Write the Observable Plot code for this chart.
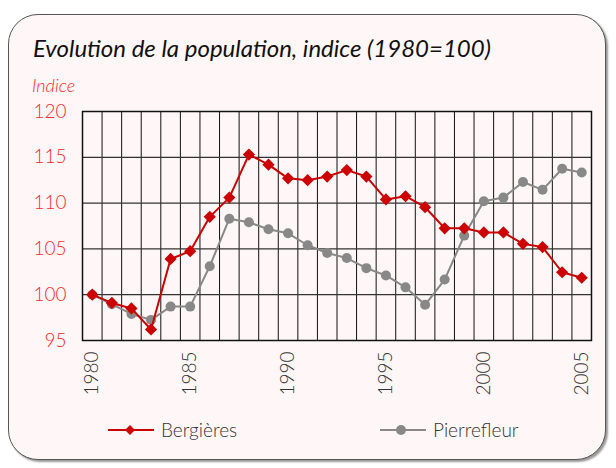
<!DOCTYPE html>
<html><head><meta charset="utf-8">
<script src="https://cdn.jsdelivr.net/npm/d3@7"></script>
<script src="https://cdn.jsdelivr.net/npm/@observablehq/plot@0.6"></script>
<style>
html,body{margin:0;padding:0;background:#fff;}
body{width:616px;height:468px;position:relative;overflow:hidden;font-family:Lato,"Open Sans",sans-serif;}
#box{position:absolute;left:8px;top:14px;width:598px;height:446px;border:1px solid #555;border-radius:30px;background:#fff7f7;box-shadow:2px 2px 2px #999;box-sizing:border-box;}
#chart{position:absolute;left:0;top:0;}
#title{position:absolute;left:33px;top:33px;font-size:24px;font-style:italic;color:#111;white-space:nowrap;font-weight:400;}
#ylab{position:absolute;left:32px;top:74px;font-size:18px;font-style:italic;color:#ff2a2a;font-weight:300;}
.leg{position:absolute;top:418px;display:flex;align-items:center;font-size:19px;color:#333;font-weight:300;}
.leg svg{margin-right:7px;}
</style></head>
<body>
<div id="box"></div>
<div id="chart"></div>
<div id="title">Evolution de la population, indice (1980=100)</div>
<div id="ylab">Indice</div>
<div class="leg" style="left:108px"><svg width="46" height="20"><line x1="0" y1="10" x2="46" y2="10" stroke="#cc0000" stroke-width="2"/><path d="M22,5L27,10L22,15L17,10Z" fill="#cc0000"/></svg>Bergières</div>
<div class="leg" style="left:380px"><svg width="46" height="20"><line x1="0" y1="10" x2="46" y2="10" stroke="#888" stroke-width="2"/><circle cx="21" cy="10" r="5" fill="#888"/></svg>Pierrefleur</div>
<script>
const years = d3.range(1980, 2006);
const bergieres = [100.0, 99.1, 98.5, 96.2, 103.9, 104.75, 108.5, 110.6, 115.3, 114.2, 112.7, 112.5, 112.9, 113.6, 112.9, 110.4, 110.75, 109.55, 107.25, 107.25, 106.8, 106.8, 105.55, 105.2, 102.45, 101.85];
const pierrefleur = [100.0, 98.95, 97.9, 97.25, 98.7, 98.7, 103.1, 108.3, 107.9, 107.15, 106.7, 105.4, 104.55, 104.0, 102.9, 102.1, 100.8, 98.9, 101.65, 106.45, 110.2, 110.6, 112.3, 111.45, 113.75, 113.35];
const yTicks = [95, 100, 105, 110, 115, 120];
const xTicks = [1980, 1985, 1990, 1995, 2000, 2005];

const dataB = years.map((y, i) => ({year: y, v: bergieres[i]}));
const dataP = years.map((y, i) => ({year: y, v: pierrefleur[i]}));
const xGrid = d3.range(years[0] - 0.5, years[years.length - 1] + 1, 1);

const chart = Plot.plot({
  width: 616,
  height: 468,
  marginLeft: 82,
  marginRight: 25,
  marginTop: 111,
  marginBottom: 128,
  style: {background: "transparent", fontFamily: "Lato, 'Open Sans', sans-serif"},
  x: {domain: [1979.5, 2005.5], ticks: xTicks, tickFormat: d => String(d), tickRotate: -90, tickSize: 0, tickPadding: 10, label: null},
  y: {domain: [95, 120], ticks: yTicks, tickSize: 0, tickPadding: 16, label: null},
  marks: [
    Plot.ruleX(xGrid, {stroke: "#111", strokeWidth: 1}),
    Plot.ruleY(yTicks, {stroke: "#333", strokeWidth: 1.2}),
    Plot.frame({stroke: "#111", strokeWidth: 1.5}),
    Plot.axisY({ticks: yTicks, tickSize: 0, tickPadding: 16, fill: "#ff2a2a", fontSize: 19, fontWeight: 300}),
    Plot.axisX({ticks: xTicks, tickFormat: d => String(d), tickRotate: -90, tickSize: 0, tickPadding: 11, fill: "#333", fontSize: 19, fontWeight: 300}),
    Plot.line(dataP, {x: "year", y: "v", stroke: "#888", strokeWidth: 2}),
    Plot.dot(dataP, {x: "year", y: "v", r: 5, fill: "#888", stroke: "none"}),
    Plot.line(dataB, {x: "year", y: "v", stroke: "#cc0000", strokeWidth: 2}),
    Plot.dot(dataB, {x: "year", y: "v", symbol: "diamond2", r: 5.5, fill: "#cc0000", stroke: "none"})
  ]
});
document.getElementById("chart").appendChild(chart);
</script>
</body></html>
